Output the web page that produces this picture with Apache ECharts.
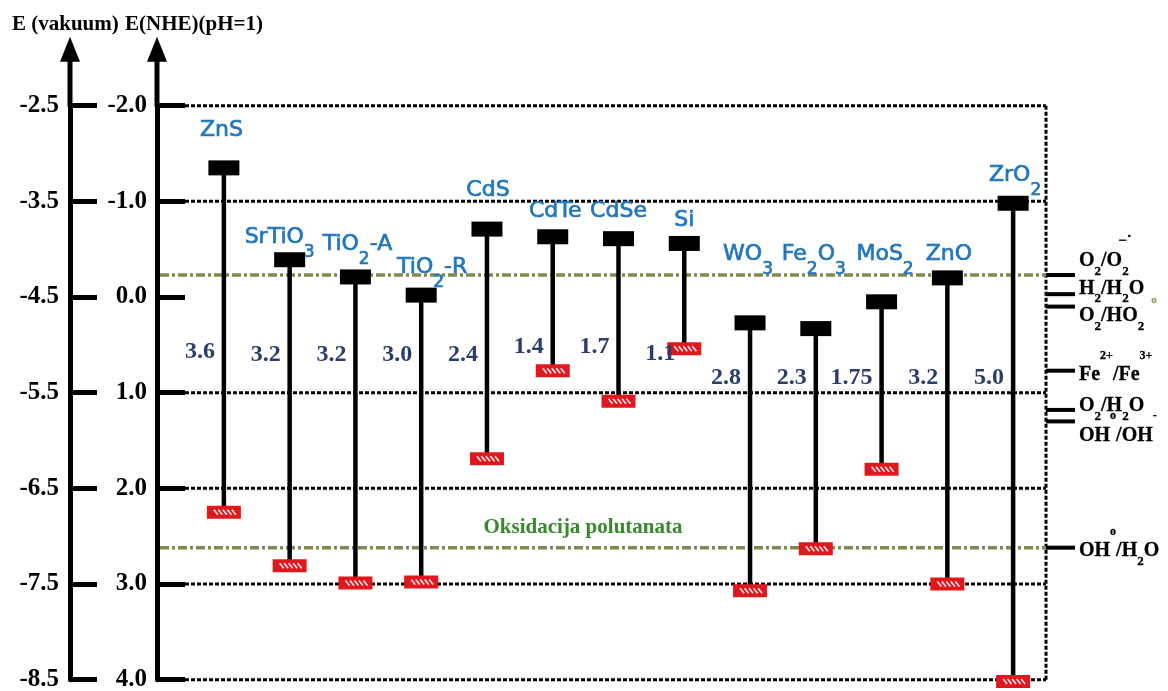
<!DOCTYPE html>
<html>
<head>
<meta charset="utf-8">
<script src="https://cdn.jsdelivr.net/npm/echarts@6/dist/echarts.min.js"></script>
<style>
  html, body { margin: 0; padding: 0; background: #fff; }
  #chart { width: 1168px; height: 691px; }
</style>
</head>
<body>
<div id="chart"></div>
<script>
// Band edge positions of photocatalytic semiconductors, E vs NHE at pH = 1
// markup: _x subscript, ^{..} superscript, `{..} superscript stacked over the previous token, #{..} small mark
const materials = ['ZnS', 'SrTiO_3', 'TiO_2-A', 'TiO_2-R', 'CdS', 'CdTe', 'CdSe', 'Si', 'WO_3', 'Fe_2O_3', 'MoS_2', 'ZnO', 'ZrO_2'];
// conduction band edge (V vs NHE)
const conductionBand = [-1.35, -0.39, -0.21, -0.02, -0.71, -0.63, -0.61, -0.56, 0.27, 0.33, 0.05, -0.20, -0.98];
// band gap (eV); valence band edge = conduction band edge + gap
const bandGap = [3.6, 3.2, 3.2, 3.0, 2.4, 1.4, 1.7, 1.1, 2.8, 2.3, 1.75, 3.2, 5.0];

// redox couples marked on the right-hand side
const redoxCouples = ['O_2/O_2`{−˙}', 'H_2/H_2O#{o}', 'O_2/HO_2', 'Fe^{2+}/Fe^{3+}', 'O_2/H_2O', 'OH^{o}/OH^{-}', 'OH^{o}/H_2O'];
const redoxPotential = [-0.23, -0.03, 0.10, 0.77, 1.18, 1.30, 2.62];

// axis ranges and dotted reference levels
const nheRange = [-2, 4];
const vacuumRange = [-8.5, -2.5];
const dottedLevels = [-2, -1, 1, 2, 3, 4];

const axisTitles = ['E (vakuum)', 'E(NHE)(pH=1)'];
const zoneLabel = 'Oksidacija polutanata';

// ---- presentation ----
const SERIF = '"Liberation Serif", "Times New Roman", serif';
const SANS = '"DejaVu Sans", Verdana, sans-serif';
const NAVY = '#2b3e6b', BLUE = '#2176bc', OLIVE = '#7d8c4e', GREEN = '#37892b', RED = '#e1171e';
const NHE_OFFSET = 34, VAC_OFFSET = 121;

const layout = {
  // label anchors in NHE units (vertical) and pixel shifts (horizontal)
  nameBaseline: [-1.662, -0.544, -0.470, -0.230, -1.035, -0.815, -0.815, -0.721, -0.366, -0.366, -0.366, -0.366, -1.192],
  nameShift: [-2.5, -10, 2, 11, 1, 2.5, 0, 0, -2, -2, 3.5, 1.5, 2],
  gapLevel: [0.575, 0.606, 0.606, 0.606, 0.606, 0.523, 0.523, 0.596, 0.847, 0.847, 0.847, 0.847, 0.847],
  redoxBaseline: [-7, 1, 16, 11, 3, 21, 10]
};

const NAME_SPEC = { family: SANS, weight: 'normal', size: 22, subSize: 17, subDrop: 13, supSize: 17, supRise: 10, overShift: 0,
  color: BLUE, strokeWidth: 0.7 };
const REDOX_SPEC = { family: SERIF, weight: 'bold', size: 20, subSize: 13, subDrop: 8, supSize: 12, supRise: 22, overShift: -4,
  overSize: 15, markSize: 11, markDrop: 9, markGap: 7, markColor: '#97a56c', color: '#000', strokeWidth: 0.3 };

const mctx = document.createElement('canvas').getContext('2d');
function measure(str, font) { mctx.font = font; return mctx.measureText(str).width; }

function parseMarkup(s) {
  const out = [];
  const re = /([_^`#])(?:\{([^}]*)\}|(.))|([^_^`#]+)/g;
  let m;
  while ((m = re.exec(s))) {
    if (m[4] !== undefined) out.push({ kind: 'n', t: m[4] });
    else out.push({ kind: m[1], t: m[2] !== undefined ? m[2] : m[3] });
  }
  return out;
}

// lays out a markup string on an alphabetic baseline; returns text elements
function markupText(s, x, baseline, spec, align) {
  const toks = parseMarkup(s);
  let cx = 0, prevX = 0;
  const placed = [];
  for (const tk of toks) {
    let size = spec.size, dy = 0, color = spec.color, gap = 0, over = false;
    if (tk.kind === '_') { size = spec.subSize; dy = spec.subDrop; }
    else if (tk.kind === '^') { size = spec.supSize; dy = -spec.supRise; }
    else if (tk.kind === '`') { size = spec.overSize || spec.supSize; dy = -spec.supRise; over = true; }
    else if (tk.kind === '#') { size = spec.markSize; dy = spec.markDrop; color = spec.markColor; gap = spec.markGap; }
    const font = `${spec.weight} ${size}px ${spec.family}`;
    const w = measure(tk.t, font);
    const tx = over ? prevX + spec.overShift : cx + gap;
    placed.push({ t: tk.t, font, color, x: tx, y: dy - 0.34 * size });
    if (!over) { prevX = tx; cx = tx + w; }
  }
  const x0 = align === 'center' ? x - cx / 2 : align === 'right' ? x - cx : x;
  return placed.map(p => ({
    type: 'text', x: x0 + p.x, y: baseline + p.y,
    style: { text: p.t, font: p.font, fill: p.color, stroke: p.color, lineWidth: spec.strokeWidth || 0,
      align: 'left', verticalAlign: 'middle' }
  }));
}

function plainText(text, x, baseline, font, size, color, align) {
  return { type: 'text', x, y: baseline - 0.34 * size,
    style: { text, font: `${font}`, fill: color, align: align || 'left', verticalAlign: 'middle' } };
}

const fmtGap = v => Number.isInteger(v * 10) ? v.toFixed(1) : String(v);

// ---- renderers ----
function renderFrame(params, api) {
  const cs = params.coordSys;
  const right = cs.x + cs.width;
  const children = [];
  const axesX = [cs.x - VAC_OFFSET, cs.x - NHE_OFFSET];
  axesX.forEach(ax => {
    children.push({ type: 'line', shape: { x1: ax, y1: cs.y + 1, x2: ax, y2: cs.y - 46 }, style: { stroke: '#000', lineWidth: 5 } });
    children.push({ type: 'polygon', shape: { points: [[ax - 10, cs.y - 44], [ax + 10, cs.y - 44], [ax, cs.y - 69]] }, style: { fill: '#000' } });
  });
  const tf = `bold 21px ${SERIF}`;
  children.push(plainText(axisTitles[0], axesX[0] - 58, cs.y - 74, tf, 21, '#000'));
  children.push(plainText(axisTitles[1], axesX[1] - 32, cs.y - 74, tf, 21, '#000'));
  // right frame
  children.push({ type: 'line', shape: { x1: right, y1: cs.y, x2: right, y2: cs.y + cs.height },
    style: { stroke: '#000', lineWidth: 3, lineDash: [4, 2] } });
  return { type: 'group', children };
}

function renderLevel(params, api) {
  const cs = params.coordSys;
  const y = api.coord([0, api.value(1)])[1];
  return { type: 'line', shape: { x1: cs.x - 6, y1: y, x2: cs.x + cs.width, y2: y },
    style: { stroke: '#000', lineWidth: 3, lineDash: [4, 2] } };
}

function renderRedox(params, api) {
  const cs = params.coordSys;
  const i = params.dataIndex;
  const last = redoxPotential.length - 1;
  const right = cs.x + cs.width;
  const y = api.coord([0, api.value(1)])[1];
  const children = [];
  if (i === 0 || i === last) {
    children.push({ type: 'line', shape: { x1: cs.x - NHE_OFFSET + 3, y1: y, x2: right, y2: y },
      style: { stroke: OLIVE, lineWidth: 3.5, lineDash: [9, 3, 3, 3] } });
  }
  if (i === last) {
    children.push({ type: 'text', x: cs.x + 392, y: y - 20,
      style: { text: zoneLabel, font: `bold 21px ${SERIF}`, fill: GREEN, align: 'center', verticalAlign: 'middle' } });
  }
  children.push({ type: 'line', shape: { x1: right, y1: y, x2: right + 29, y2: y }, style: { stroke: '#000', lineWidth: 4 } });
  children.push(...markupText(redoxCouples[i], right + 33, y + layout.redoxBaseline[i], REDOX_SPEC, 'left'));
  return { type: 'group', children };
}

function renderBand(params, api) {
  const i = params.dataIndex;
  const top = api.coord([i, api.value(1)]);
  const bot = api.coord([i, api.value(2)]);
  const x = top[0];
  const children = [];
  children.push({ type: 'line', shape: { x1: x, y1: top[1], x2: x, y2: bot[1] }, style: { stroke: '#000', lineWidth: 4.5 } });
  children.push({ type: 'rect', shape: { x: x - 15.5, y: top[1] - 7.5, width: 31, height: 15 }, style: { fill: '#000' } });
  children.push({ type: 'rect', shape: { x: x - 17, y: bot[1] - 6.5, width: 34, height: 13 }, style: { fill: RED } });
  for (let k = 0; k < 5; k++) {
    const sx = x - 10 + k * 4.5;
    children.push({ type: 'line', shape: { x1: sx, y1: bot[1] - 2.5, x2: sx + 4, y2: bot[1] + 2.5 },
      style: { stroke: '#fff', lineWidth: 1.6, opacity: 0.9 } });
  }
  const gy = api.coord([i, layout.gapLevel[i]])[1];
  children.push({ type: 'text', x: x - 9, y: gy,
    style: { text: fmtGap(api.value(3)), font: `bold 24px ${SERIF}`, fill: NAVY, align: 'right', verticalAlign: 'middle' } });
  const ny = api.coord([i, layout.nameBaseline[i]])[1];
  children.push(...markupText(materials[i], x + layout.nameShift[i], ny, NAME_SPEC, 'center'));
  return { type: 'group', children };
}

// ---- chart ----
const chart = echarts.init(document.getElementById('chart'));
const axisLabelStyle = { fontFamily: SERIF, fontWeight: 'bold', fontSize: 25, color: '#000' };

chart.setOption({
  animation: false,
  backgroundColor: '#fff',
  grid: { left: 191, right: 122, top: 105.7, bottom: 11.3, containLabel: false, outerBoundsMode: 'none' },
  xAxis: { type: 'category', data: materials.map(s => s.replace(/_/g, '')), boundaryGap: true, show: false },
  yAxis: [
    {
      type: 'value', inverse: true, min: nheRange[0], max: nheRange[1], interval: 1,
      position: 'left', offset: NHE_OFFSET,
      axisLine: { show: true, onZero: false, lineStyle: { color: '#000', width: 5 } },
      axisTick: { show: true, inside: true, length: 28, lineStyle: { color: '#000', width: 5 } },
      axisLabel: Object.assign({ margin: 10, formatter: v => v.toFixed(1) }, axisLabelStyle),
      splitLine: { show: false }
    },
    {
      type: 'value', min: vacuumRange[0], max: vacuumRange[1], interval: 1,
      position: 'left', offset: VAC_OFFSET,
      axisLine: { show: true, onZero: false, lineStyle: { color: '#000', width: 5 } },
      axisTick: { show: true, inside: true, length: 27, lineStyle: { color: '#000', width: 5 } },
      axisLabel: Object.assign({ margin: 11, formatter: v => v.toFixed(1) }, axisLabelStyle),
      splitLine: { show: false }
    }
  ],
  series: [
    { type: 'custom', name: 'frame', yAxisIndex: 0, z: 1, clip: false, silent: true,
      encode: { x: 0, y: 1 }, data: [[0, nheRange[0]]], renderItem: renderFrame },
    { type: 'custom', name: 'levels', yAxisIndex: 0, z: 1, clip: false, silent: true,
      encode: { x: 0, y: 1 }, data: dottedLevels.map(v => [0, v]), renderItem: renderLevel },
    { type: 'custom', name: 'redox', yAxisIndex: 0, z: 2, clip: false, silent: true,
      encode: { x: 0, y: 1 }, data: redoxPotential.map(v => [0, v]), renderItem: renderRedox },
    { type: 'custom', name: 'bands', yAxisIndex: 0, z: 3, clip: false, silent: true,
      encode: { x: 0, y: [1, 2] },
      data: materials.map((m, i) => [i, conductionBand[i], conductionBand[i] + bandGap[i], bandGap[i]]),
      renderItem: renderBand }
  ]
});
</script>
</body>
</html>
